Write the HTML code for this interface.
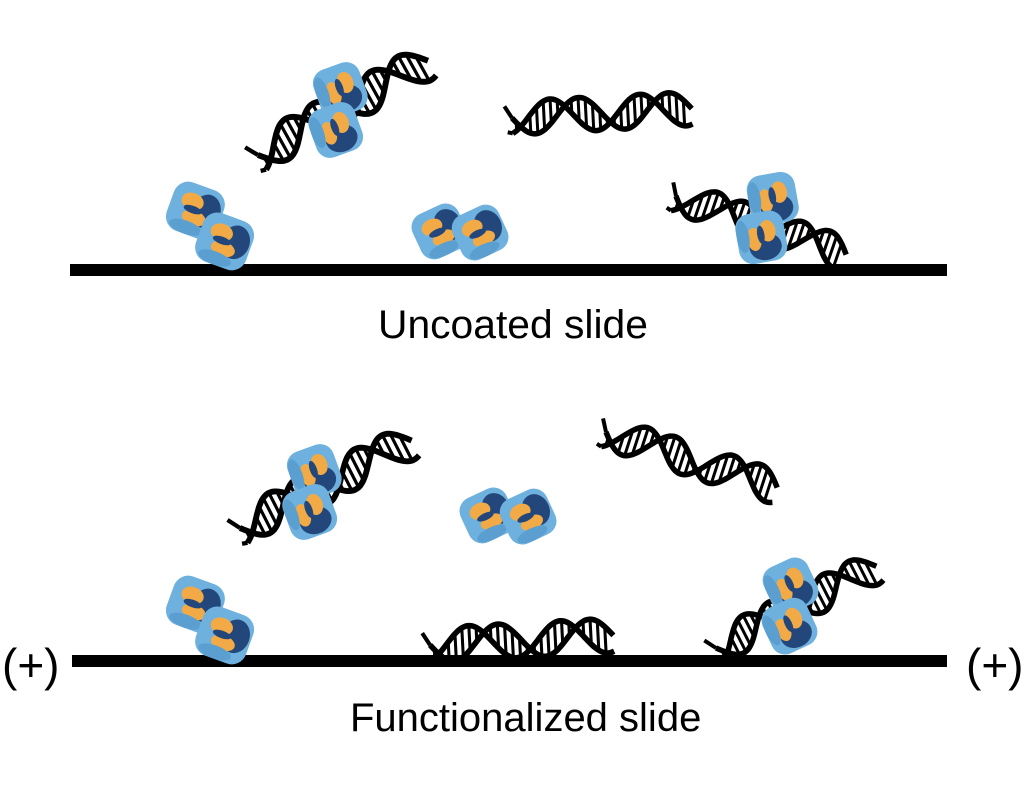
<!DOCTYPE html>
<html><head><meta charset="utf-8">
<style>
html,body{margin:0;padding:0;background:#fff;}
body{width:1024px;height:793px;overflow:hidden;position:relative;font-family:"Liberation Sans",sans-serif;}
.t{position:absolute;font-size:40px;color:#000;white-space:nowrap;transform-origin:0 0;}
</style></head><body>
<svg id="s" width="1024" height="793" viewBox="0 0 1024 793" style="position:absolute;left:0;top:0">
<defs>
<g id="dna"></g>
<g id="prot"></g>
</defs>
<rect x="70" y="264" width="877" height="12" fill="#000"/>
<rect x="72" y="655" width="875" height="12" fill="#000"/>
</svg>
<div class="t" style="left:378px;top:303px;transform:scaleX(1.02)">Uncoated slide</div>
<div class="t" style="left:350px;top:696px;transform:scaleX(1.0)">Functionalized slide</div>
<div class="t" style="left:2px;top:638px;font-size:46px">(+)</div>
<div class="t" style="left:966px;top:638px;font-size:46px">(+)</div>
<script>
var NS="http://www.w3.org/2000/svg";
function el(t,a,p){var e=document.createElementNS(NS,t);for(var k in a)e.setAttribute(k,a[k]);p.appendChild(e);return e;}
var d=document.getElementById('dna');
var L=180,A=17,P=90,ph=2.0;
function y1(x){return A*Math.sin(2*Math.PI*x/P);}
function y2(x){return A*Math.sin(2*Math.PI*x/P+ph);}
for(var x=4;x<L-2;x+=7){
 var a=y1(x),b=y2(x);
 if(Math.abs(a-b)>6) el('line',{x1:x,y1:a,x2:x,y2:b,stroke:'#000','stroke-width':3},d);
}
function sp(f){var s='M0 '+f(0).toFixed(1);for(var x=2;x<=L;x+=2)s+=' L'+x+' '+f(x).toFixed(1);return s;}
el('path',{d:sp(y1),fill:'none',stroke:'#000','stroke-width':5.5},d);
el('path',{d:sp(y2),fill:'none',stroke:'#000','stroke-width':5.5},d);
el('path',{d:'M0 '+y1(0)+' L-7 -12 M0 '+y2(0)+' L-5 14',stroke:'#000','stroke-width':4,fill:'none'},d);
var p=document.getElementById('prot');
function lobe(cx,cy,g){
 el('rect',{x:cx-28,y:cy-27,width:56,height:54,rx:16,fill:'#6eb0de'},g);
 el('ellipse',{cx:cx+11,cy:cy-3,rx:15,ry:18,fill:'#23477a'},g);
 el('ellipse',{cx:cx-6,cy:cy-8,rx:12,ry:9,fill:'#f2aa46'},g);
 el('ellipse',{cx:cx+1,cy:cy+8,rx:13,ry:8,fill:'#f2aa46'},g);
 el('ellipse',{cx:cx-3,cy:cy,rx:10,ry:4,fill:'#23477a'},g);
 el('ellipse',{cx:cx-4,cy:cy+20,rx:18,ry:7,fill:'#5a9fd0'},g);
}
lobe(-20,-10,p);lobe(20,10,p);
var s=document.getElementById('s');
function put(id,x,y,r,sc){el('use',{href:'#'+id,transform:'translate('+x+' '+y+') rotate('+r+') scale('+(sc||1)+')'},s);}
put('dna',258,155,-29,1.08);
put('dna',512,118,-3,1.0);
put('dna',676,196,19,1.0);
put('dna',240,528,-27,1.07);
put('dna',606,432,18,1.0);
put('dna',430,645,-3,1.02);
put('dna',716,648,-27,1.0);
put('prot',210,226,20,0.95);
put('prot',338,110,70,0.9);
put('prot',460,232,-25,0.9);
put('prot',767,218,80,0.9);
put('prot',508,516,-25,0.9);
put('prot',312,492,70,0.9);
put('prot',210,620,20,0.95);
put('prot',790,606,65,0.9);
</script>
</body></html>
